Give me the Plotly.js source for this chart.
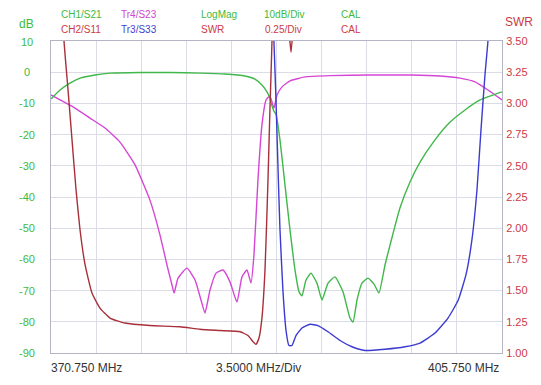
<!DOCTYPE html>
<html>
<head>
<meta charset="utf-8">
<script src="https://cdn.plot.ly/plotly-3.0.1.min.js"></script>
<style>html,body{margin:0;padding:0;background:#fff;}#chart{width:541px;height:385px;}</style>
</head>
<body>
<div id="chart"></div>
<script>
// CH1/S21 (dB)
const s21Freq = [370.75,371.45,372.22,373.0,374.16,375.33,377.66,379.98,382.31,384.25,385.8,386.58,387.12,387.51,387.74,387.9,388.05,388.21,388.52,388.91,389.3,389.69,390.0,390.23,390.54,390.93,391.39,391.78,392.25,392.79,393.41,393.95,394.19,394.5,394.88,395.35,395.82,396.2,396.67,397.06,397.83,398.61,399.39,400.55,401.72,402.88,404.05,405.75];
const s21dB   = [-8.6,-5.7,-3.5,-1.9,-0.9,-0.3,-0.1,-0.1,-0.3,-0.6,-1.2,-2.2,-4.1,-6.3,-8.3,-10.8,-12.5,-13.5,-21.7,-36.2,-50.6,-63.5,-70.4,-71.7,-66.6,-64.4,-67.6,-73.0,-67.6,-65.6,-70.4,-78.8,-80.1,-73.0,-67.6,-66.0,-67.9,-70.8,-61.8,-55.4,-43.5,-35.2,-28.8,-21.7,-16.0,-12.1,-8.9,-6.3];

// Tr4/S23 (dB)
const s23Freq = [370.75,371.45,372.61,373.78,374.94,376.1,377.27,378.43,379.21,379.75,380.14,380.3,380.61,381.3,381.93,382.39,382.7,383.09,383.56,384.1,384.64,385.18,385.57,385.96,386.27,386.5,386.81,387.12,387.44,387.74,388.05,388.29,388.68,389.3,390.46,392.4,395.51,398.61,400.94,402.49,403.65,404.66,405.75];
const s23dB   = [-7.3,-8.9,-11.5,-14.7,-17.9,-22.4,-29.7,-41.0,-52.2,-61.8,-68.2,-70.8,-66.0,-62.8,-66.6,-73.0,-77.2,-69.8,-64.4,-63.4,-67.2,-73.7,-65.6,-63.4,-67.6,-58.6,-34.6,-16.9,-8.9,-7.6,-11.5,-7.3,-4.7,-2.8,-1.5,-1.1,-0.9,-0.9,-1.2,-1.9,-3.1,-5.7,-8.9];

// CH2/S11 (SWR)
const s11Freq = [370.75,371.45,371.76,372.07,372.38,372.69,373.0,373.39,373.93,374.55,375.33,376.49,378.43,380.76,382.31,383.86,385.42,386.04,386.43,386.66,386.89,387.12,387.36,387.59,387.74,387.9,388.13,388.91,389.22,389.38,389.53,390.07,392.4,405.75];
const s11Swr  = [6.0,4.2,3.5,3.11,2.71,2.31,1.99,1.71,1.48,1.36,1.28,1.24,1.22,1.21,1.19,1.18,1.17,1.14,1.09,1.07,1.12,1.28,1.67,2.39,2.95,3.5,5.0,4.5,3.6,3.41,3.6,4.5,8.0,10.0];

// Tr3/S33 (SWR)
const s33Freq = [370.75,385.0,387.5,387.98,388.05,388.21,388.37,388.52,388.75,388.99,389.22,389.45,389.76,390.23,390.85,391.47,392.25,393.18,394.11,395.12,396.67,398.22,399.39,400.55,401.56,402.34,402.96,403.42,403.81,404.12,404.43,404.66,404.97,405.75];
const s33Swr  = [10.0,10.0,6.0,3.7,3.5,3.03,2.47,1.99,1.5,1.18,1.06,1.06,1.14,1.2,1.23,1.22,1.17,1.1,1.05,1.02,1.03,1.05,1.08,1.16,1.28,1.42,1.63,1.91,2.31,2.79,3.23,3.5,4.2,6.0];

const dbTicks  = [10,0,-10,-20,-30,-40,-50,-60,-70,-80,-90];
const swrTicks = [1.00,1.25,1.50,1.75,2.00,2.25,2.50,2.75,3.00,3.25,3.50];
const freqStart = 370.75, freqStop = 405.75, freqDiv = 3.5;

const GREEN = '#3fb74a', MAG = '#d546d5', RED = '#a8303a', BLUE = '#3b3bd2';
const TGREEN = '#3dba3d', TRED = '#cc3a44', TMAG = '#d046d0', TBLUE = '#3f3fcf';

const lineOpts = (c) => ({color: c, width: 1.4, shape: 'spline', smoothing: 0.45});
const traces = [
  {x: s11Freq, y: s11Swr, yaxis: 'y2', mode: 'lines', line: lineOpts(RED), name: 'CH2/S11'},
  {x: s33Freq, y: s33Swr, yaxis: 'y2', mode: 'lines', line: lineOpts(BLUE), name: 'Tr3/S33'},
  {x: s23Freq, y: s23dB, mode: 'lines', line: lineOpts(MAG), name: 'Tr4/S23'},
  {x: s21Freq, y: s21dB, mode: 'lines', line: lineOpts(GREEN), name: 'CH1/S21'}
];

const px = (p) => (p - 51) / 451;
const py = (p) => (353 - p) / 312;
const ann = [];
const F = 'Liberation Sans, Arial, sans-serif';
function txt(text, x, y, color, size, xanchor) {
  ann.push({text: text, xref: 'paper', yref: 'paper', x: x, y: y, showarrow: false,
    xanchor: xanchor || 'left', yanchor: 'middle', font: {family: F, size: size, color: color}});
}
txt('CH1/S21', px(59), py(14), TGREEN, 10);
txt('Tr4/S23', px(119), py(14), TMAG, 10);
txt('LogMag', px(199), py(14), TGREEN, 10);
txt('10dB/Div', px(262), py(14), TGREEN, 10);
txt('CAL', px(339), py(14), TGREEN, 10);
txt('CH2/S11', px(59), py(30), TRED, 10);
txt('Tr3/S33', px(119), py(30), TBLUE, 10);
txt('SWR', px(199), py(30), TRED, 10);
txt('0.25/Div', px(263), py(30), TRED, 10);
txt('CAL', px(339), py(30), TRED, 10);
txt('dB', px(26), py(24), TGREEN, 12, 'center');
txt('SWR', px(503), py(22), TRED, 12);
txt(freqStart.toFixed(3) + ' MHz', px(49), py(368), '#333', 12);
txt(freqDiv.toFixed(4) + ' MHz/Div', px(258), py(368), '#333', 12, 'center');
txt(freqStop.toFixed(3) + ' MHz', px(501), py(368), '#333', 12, 'right');
dbTicks.forEach(v => ann.push({text: String(v), xref: 'paper', yref: 'y', x: px(27), y: v,
  showarrow: false, xanchor: 'center', yanchor: 'middle', yshift: v === 10 ? -1 : 0,
  font: {family: F, size: 11, color: TGREEN}}));

const layout = {
  width: 541, height: 385,
  margin: {l: 51, r: 39, t: 41, b: 32},
  paper_bgcolor: '#ffffff', plot_bgcolor: '#ffffff',
  showlegend: false,
  xaxis: {range: [freqStart, freqStop], tick0: freqStart, dtick: freqDiv, showticklabels: false,
    ticks: '', showgrid: true, gridcolor: '#dcdce6', gridwidth: 1, zeroline: false,
    showline: true, linecolor: '#b4b4c4', linewidth: 1, mirror: true, fixedrange: true},
  yaxis: {range: [-90, 10], tickvals: dbTicks, showticklabels: false, ticks: '',
    showgrid: true, gridcolor: '#dcdce6', zeroline: false,
    showline: true, linecolor: '#b4b4c4', linewidth: 1, mirror: true},
  yaxis2: {range: [1, 3.5], tickvals: swrTicks, ticktext: swrTicks.map(v => v.toFixed(2)),
    overlaying: 'y', side: 'right', showgrid: false, zeroline: false, ticks: '',
    ticklabelstandoff: 1, tickfont: {family: F, size: 11, color: TRED},
    showline: true, linecolor: '#b4b4c4', linewidth: 1},
  annotations: ann
};

Plotly.newPlot('chart', traces, layout, {displayModeBar: false, staticPlot: true});
</script>
</body>
</html>
